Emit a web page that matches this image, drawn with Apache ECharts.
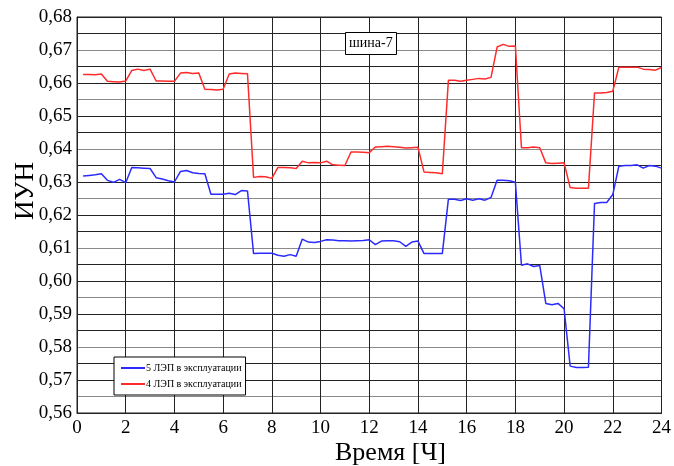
<!DOCTYPE html>
<html><head><meta charset="utf-8">
<script src="https://cdn.jsdelivr.net/npm/echarts@6/dist/echarts.min.js"></script>
<style>html,body{margin:0;padding:0;background:#fff}#c{width:674px;height:466px}</style>
</head><body><div id="c"></div>
<script>
const hours = [0.25,0.5,0.75,1,1.25,1.5,1.75,2,2.25,2.5,2.75,3,3.25,3.5,3.75,4,4.25,4.5,4.75,5,5.25,5.5,5.75,6,
6.25,6.5,6.75,7,7.25,7.5,7.75,8,8.25,8.5,8.75,9,9.25,9.5,9.75,10,10.25,10.5,10.75,11,11.25,11.5,11.75,12,
12.25,12.5,12.75,13,13.25,13.5,13.75,14,14.25,14.5,14.75,15,15.25,15.5,15.75,16,16.25,16.5,16.75,17,17.25,17.5,17.75,18,
18.25,18.5,18.75,19,19.25,19.5,19.75,20,20.25,20.5,20.75,21,21.25,21.5,21.75,22,22.25,22.5,22.75,23,23.25,23.5,23.75,24];
const line5 = [0.6318,0.6320,0.6322,0.6325, 0.6305,0.6299,0.6308,0.6298, 0.6344,0.6343,0.6342,0.6341, 0.6313,0.6309,0.6304,0.6300,
0.6332,0.6335,0.6328,0.6326, 0.6325,0.6263,0.6263,0.6263, 0.6266,0.6262,0.6274,0.6273, 0.6083,0.6084,0.6084,0.6084,
0.6078,0.6075,0.6080,0.6075, 0.6127,0.6118,0.6117,0.6120, 0.6125,0.6124,0.6122,0.6122, 0.6121,0.6122,0.6123,0.6125,
0.6110,0.6121,0.6122,0.6122, 0.6119,0.6105,0.6118,0.6121, 0.6083,0.6083,0.6083,0.6083, 0.6248,0.6248,0.6244,0.6249,
0.6245,0.6249,0.6245,0.6253, 0.6305,0.6305,0.6304,0.6299, 0.6048,0.6052,0.6044,0.6047, 0.5932,0.5928,0.5932,0.5916,
0.5742,0.5738,0.5738,0.5739, 0.6235,0.6238,0.6238,0.6262, 0.6348,0.6350,0.6350,0.6352, 0.6342,0.6350,0.6348,0.6342];
const line4 = [0.6626,0.6626,0.6625,0.6627, 0.6605,0.6604,0.6603,0.6606, 0.6638,0.6642,0.6638,0.6642, 0.6606,0.6606,0.6605,0.6605,
0.6630,0.6632,0.6629,0.6630, 0.6581,0.6580,0.6579,0.6581, 0.6627,0.6630,0.6629,0.6628, 0.6314,0.6317,0.6316,0.6311,
0.6344,0.6344,0.6343,0.6341, 0.6363,0.6358,0.6359,0.6358, 0.6363,0.6352,0.6351,0.6350, 0.6391,0.6391,0.6390,0.6389,
0.6406,0.6407,0.6408,0.6407, 0.6405,0.6403,0.6404,0.6405, 0.6330,0.6329,0.6328,0.6325, 0.6608,0.6608,0.6605,0.6608,
0.6611,0.6614,0.6612,0.6617, 0.6709,0.6717,0.6711,0.6712, 0.6404,0.6404,0.6406,0.6404, 0.6358,0.6356,0.6357,0.6358,
0.6283,0.6281,0.6281,0.6281, 0.6570,0.6570,0.6571,0.6575, 0.6648,0.6648,0.6648,0.6648, 0.6642,0.6641,0.6639,0.6647];
const seriesNames = ['5 ЛЭП в эксплуатации','4 ЛЭП в эксплуатации'];
const titleText = 'шина-7';
const xName = 'Время [Ч]';
const yName = 'ИУН';

const serif = '"Liberation Serif","DejaVu Serif",serif';
const chart = echarts.init(document.getElementById('c'), null, {renderer:'canvas'});
chart.setOption({
  animation:false,
  backgroundColor:'#fff',
  title:{text:titleText,left:345,top:32,padding:[4,4,5,4],borderColor:'#000',borderWidth:1,backgroundColor:'#fff',
    textStyle:{fontFamily:serif,fontSize:14,fontWeight:'normal',color:'#000'}},
  legend:{orient:'vertical',left:114,top:357,itemWidth:24,itemHeight:2,itemGap:6,padding:[6,4,6,6],
    backgroundColor:'#fff',borderColor:'#000',borderWidth:1,
    textStyle:{fontFamily:serif,fontSize:10,color:'#000',padding:[0,0,0,-4]},data:seriesNames},
  graphic:[
    {type:'text',left:12,top:162,rotation:Math.PI/2,style:{text:yName,font:'27px '+'"Liberation Serif",serif',fill:'#000'}},
    {type:'text',left:335,top:440,style:{text:xName,font:'26px '+'"Liberation Serif",serif',fill:'#000'}}
  ],
  grid:{left:77,right:9,top:17,bottom:53,show:true,borderColor:'#222',borderWidth:1},
  xAxis:{type:'value',min:0,max:24,interval:2,
    axisLine:{show:true,lineStyle:{color:'#222'}},
    axisTick:{show:true,inside:true,length:3,lineStyle:{color:'#222'}},
    axisLabel:{fontFamily:serif,fontSize:19,color:'#000',margin:6},
    splitLine:{show:true,lineStyle:{color:'#222',width:1}}},
  yAxis:{type:'value',min:0.56,max:0.68,interval:0.005,
    axisLine:{show:true,lineStyle:{color:'#222'}},
    axisTick:{show:false},
    axisLabel:{fontFamily:serif,fontSize:19,color:'#000',margin:5,
      formatter:function(v){const k=Math.round(v*1000);return k%10===0?(k/1000).toFixed(2).replace('.',','):'';}},
    splitLine:{show:true,lineStyle:{color:['#222','#8a8a8a','#222'],width:1}}},
  series:[
    {name:seriesNames[0],type:'line',symbol:'none',data:hours.map((h,i)=>[h,line5[i]]),
      lineStyle:{color:'#2b2bff',width:1.5},itemStyle:{color:'#2b2bff'}},
    {name:seriesNames[1],type:'line',symbol:'none',data:hours.map((h,i)=>[h,line4[i]]),
      lineStyle:{color:'#ff2b2b',width:1.5},itemStyle:{color:'#ff2b2b'}}
  ]
});
</script></body></html>
